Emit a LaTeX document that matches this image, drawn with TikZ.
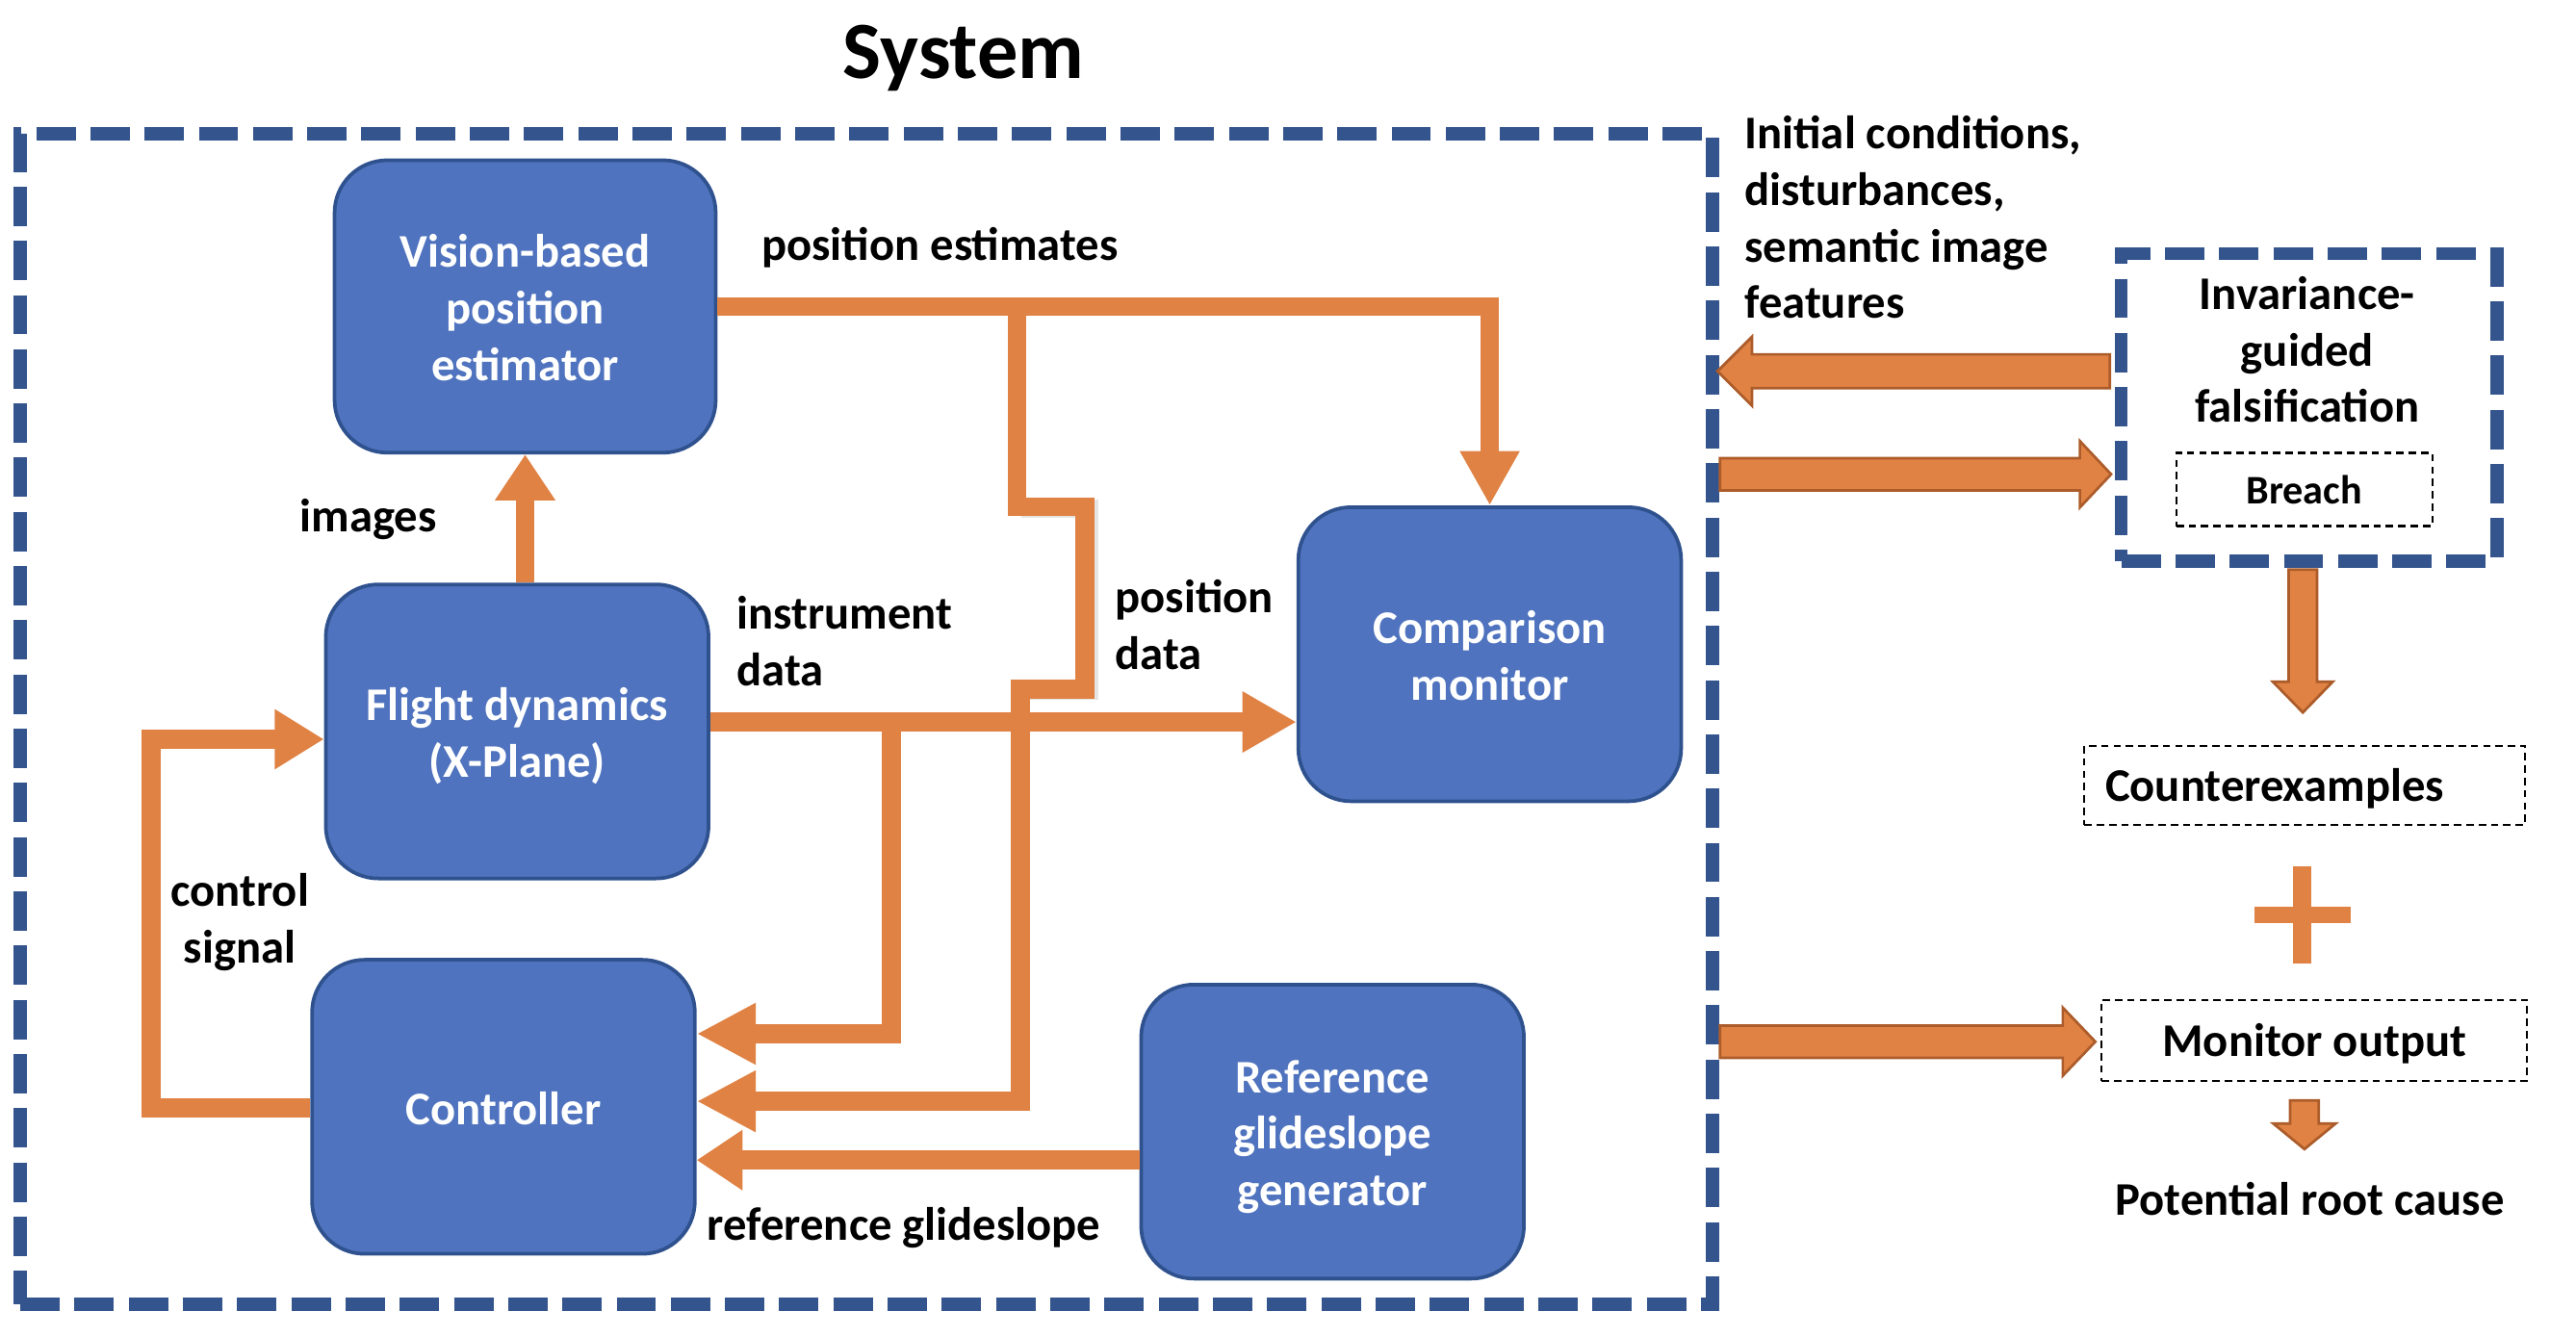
\documentclass[tikz,border=0pt]{standalone}
\usepackage{fontspec}
\setmainfont{Carlito}
\usetikzlibrary{arrows.meta,calc}
\definecolor{boxfill}{RGB}{79,115,190}
\definecolor{boxedge}{RGB}{47,82,143}
\definecolor{wireor}{RGB}{224,130,68}
\definecolor{blockedge}{RGB}{172,92,42}
\definecolor{sysblue}{RGB}{52,84,141}
\newcommand\lblf{\bfseries\fontsize{28.5}{34.5}\selectfont}
\newcommand\smf{\bfseries\fontsize{24.7}{30}\selectfont}
\newcommand\ttlf{\bfseries\fontsize{49.5}{60}\selectfont}
\newcommand\st{\rule[-10.5pt]{0pt}{34.5pt}}
\newcommand\fst{\rule[-10.5pt]{0pt}{42.5pt}}
\newcommand\cst{\rule[-10.5pt]{0pt}{40.5pt}}
\newcommand\blockarrow[5]{%
  \path ($(#2)!#5!(#1)$) coordinate (ba-h);
  \draw[barrow] ($(#1)!#3!90:(#2)$) -- ($(ba-h)!#3!-90:(#1)$) -- ($(ba-h)!#4!-90:(#1)$) -- (#2)
    -- ($(ba-h)!#4!90:(#1)$) -- ($(ba-h)!#3!90:(#1)$) -- ($(#1)!#3!-90:(#2)$) -- cycle;}
\begin{document}
\begin{tikzpicture}[x=1pt,y=-1pt,
  blk/.style={draw=boxedge, fill=boxfill, line width=2.2pt, rounded corners=32pt,
    minimum width=233pt, minimum height=179pt, text=white, font=\lblf, align=center, inner sep=0pt},
  lab/.style={font=\lblf, inner sep=0pt, text=black},
  ttl/.style={font=\ttlf, inner sep=0pt, text=black},
  wire/.style={draw=wireor, line width=11.5pt},
  arr/.style 2 args={-{Triangle[length=#1,width=#2]}},
  sysbox/.style={draw=sysblue, line width=8pt, dash pattern=on 24pt off 9pt, inner sep=0pt},
  thinbox/.style={draw=black, line width=1.3pt, dash pattern=on 4.5pt off 3pt, inner sep=0pt},
  barrow/.style={fill=wireor, draw=blockedge, line width=1.6pt, line join=miter},
]
\useasboundingbox (0,0) rectangle (1568,813.3);

% system frame and title
\node[sysbox, minimum width=1030pt, minimum height=712.7pt] (sys) at (527.3,437.65) {};
\node[ttl, anchor=base] (title) at (586.5,47.9) {System};

% blocks
\node[blk, minimum width=232pt, minimum height=178pt] (vis) at (319.65,186.55) {\fst Vision-based\\\st position\\\st estimator};
\node[blk] (fd) at (314.8,445.25) {\fst Flight dynamics\\\st (X-Plane)};
\node[blk] (ctrl) at (306.45,673.75) {\fst Controller};
\node[blk] (cmp) at (906.8,398.25) {\fst Comparison\\\st monitor};
\node[blk] (ref) at (811.1,688.85) {\fst Reference\\\st glideslope\\\st generator};

% connectors
\coordinate (estJ) at (619,186.55);
\coordinate (insJ) at (542.5,439.5);
\coordinate (cl) at (91.9,674.5);
\draw[wire, arr={33pt}{34pt}] (vis.east) -| (cmp.north);
\draw[line width=11.5pt, black, opacity=0.10] (621.5,309.6) -- (663,309.6) -- (663,420.5) -- (623.5,420.5);
\draw[wire, arr={36pt}{35pt}] (estJ) -- (619,308.6) -- (660.5,308.6) -- (660.5,419.5) -- (621,419.5) -- (621,670.4) -- (ctrl.east |- 0,670.4);
\draw[wire, arr={33pt}{35pt}] (fd.east |- insJ) -- (cmp.west |- insJ);
\draw[wire, arr={36pt}{35pt}] (insJ) -- (542.5,629.3) -- (ctrl.east |- 0,629.3);
\draw[wire, arr={28pt}{35pt}] (ref.west |- 0,706.2) -- (ctrl.east |- 0,706.2);
\draw[wire, arr={28pt}{35pt}] (fd.north -| vis.south) -- (vis.south);
\draw[wire, arr={30pt}{34.5pt}] (ctrl.west |- cl) -- (cl) -- (91.9,450) -- (fd.west |- 0,450);

% labels
\node[lab, anchor=west] (lpe) at (463.4,151.55) {\st position estimates};
\node[lab, anchor=west] (limg) at (182.5,317) {\st images};
\node[lab, anchor=west, align=left] (lid) at (448.3,393.7) {\st instrument\\\st data};
\node[lab, anchor=west, align=left] (lpd) at (678.7,383.35) {\st position\\\st data};
\node[lab, align=center] (lcs) at (146,562.25) {\st control\\\st signal};
\node[lab, anchor=west] (lrg) at (430.4,748.35) {\st reference glideslope};

% right side
\node[lab, anchor=west, align=left] (lic) at (1061.8,135.4) {\st Initial conditions,\\\st disturbances,\\\st semantic image\\\st features};
\node[sysbox, minimum width=228.7pt, minimum height=187.3pt] (inv) at (1405.5,248) {};
\node[lab, align=center] (invt) at (1404.4,215.95) {\st Invariance-\\\st guided\\\st falsification};
\node[thinbox, font=\smf, minimum width=155.7pt, minimum height=44.5pt] (breach) at (1402.6,298) {Breach};
\node[lab, thinbox, text width=242.7pt, inner xsep=12.8pt, align=left, minimum height=48.2pt] (cex) at (1402.85,478) {\cst Counterexamples};
\node[lab, thinbox, minimum width=259.1pt, minimum height=49.4pt] (mon) at (1408.75,633.3) {\cst Monitor output};
\node[lab, anchor=base] (root) at (1406,739.6) {Potential root cause};
\fill[wireor] (1395.8,527.4) rectangle (1406.8,586.6);
\fill[wireor] (1372.2,551.9) rectangle (1431,562.2);

% block arrows
\coordinate (a1t) at (1284.3,226);   \coordinate (a1h) at (1045.4,226);
\coordinate (a2t) at (1046.9,288.7); \coordinate (a2h) at (1285,288.7);
\coordinate (a3t) at (1046.9,634.1); \coordinate (a3h) at (1275.4,634.1);
\coordinate (a4t) at (1401.7,346.7); \coordinate (a4h) at (1401.7,433.7);
\coordinate (a5t) at (1402.7,669.9); \coordinate (a5h) at (1402.7,699.5);
\blockarrow{a1t}{a1h}{10.3pt}{21pt}{21pt}
\blockarrow{a2t}{a2h}{9.8pt}{20.2pt}{19pt}
\blockarrow{a3t}{a3h}{9.8pt}{20.7pt}{19.8pt}
\blockarrow{a4t}{a4h}{8.6pt}{18.2pt}{18.7pt}
\blockarrow{a5t}{a5h}{8.7pt}{19pt}{15.6pt}
\end{tikzpicture}
\end{document}
